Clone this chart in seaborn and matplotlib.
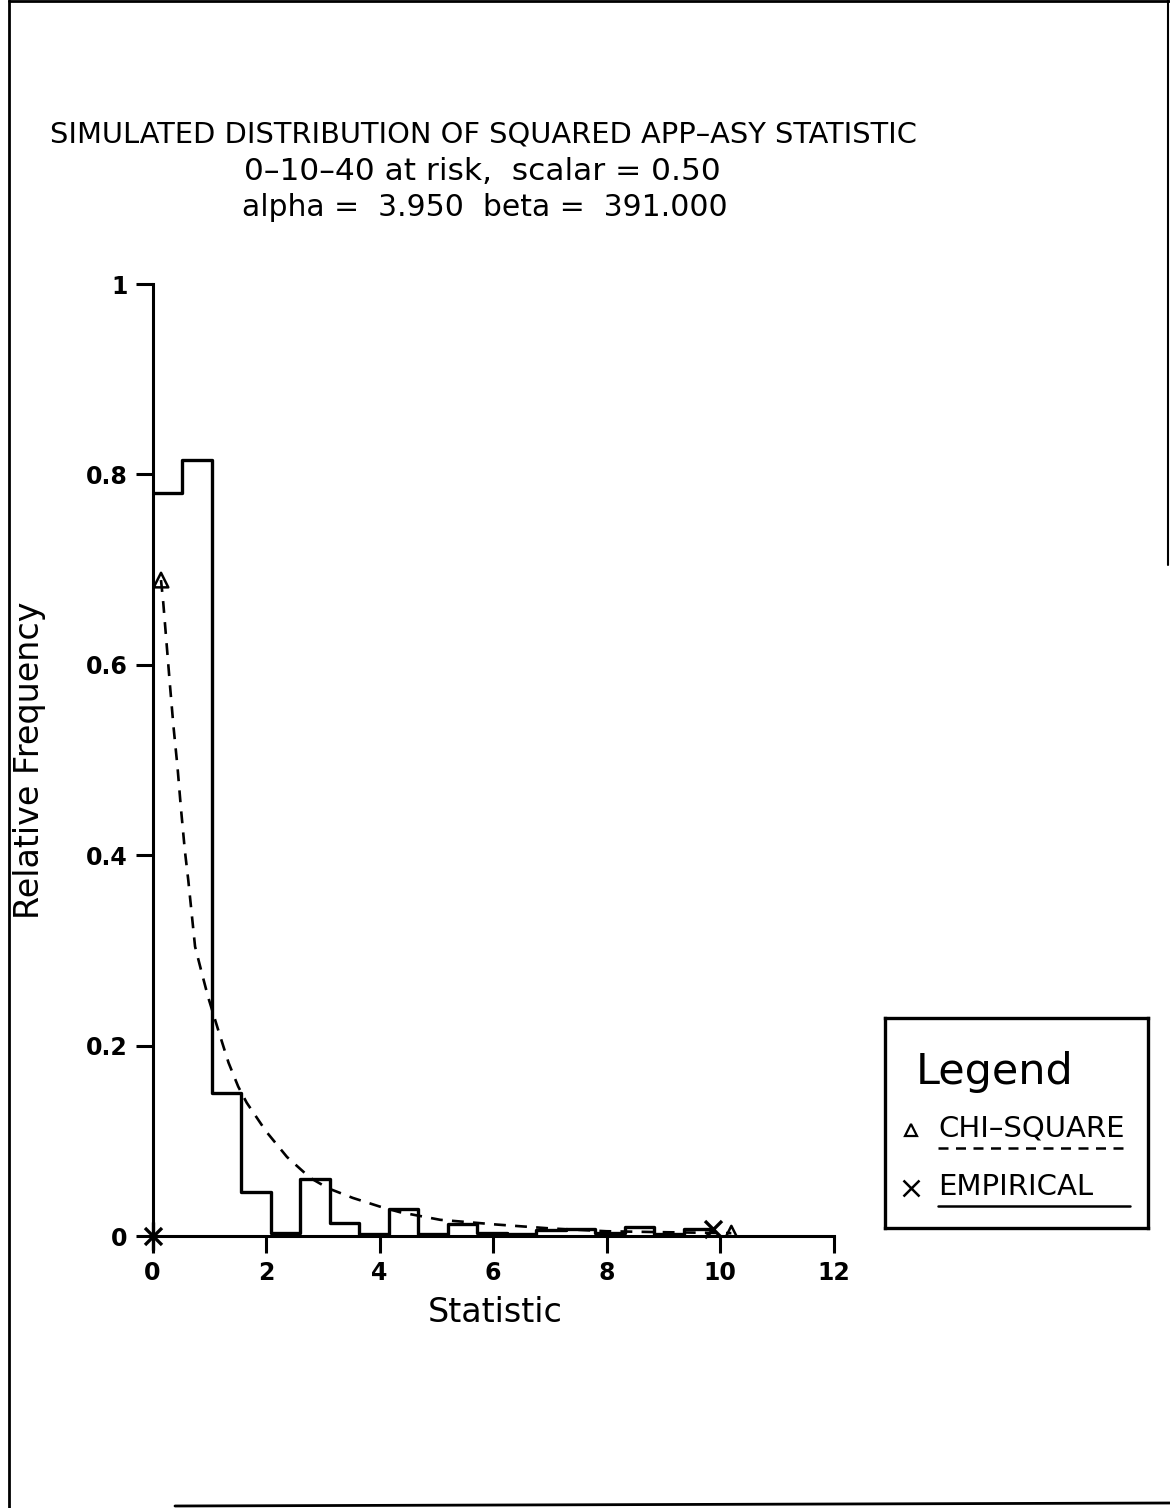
import numpy as np
import pandas as pd
import matplotlib
matplotlib.use("Agg")
import matplotlib.pyplot as plt
import seaborn as sns
from matplotlib.lines import Line2D

# ---------------- data ----------------
bin_width = 0.52
bin_starts = [0.00, 0.52, 1.04, 1.56, 2.08, 2.60, 3.12, 3.64, 4.16, 4.68,
              5.20, 5.72, 6.24, 6.76, 7.28, 7.80, 8.32, 8.84, 9.36]
empirical_freq = [0.780, 0.815, 0.150, 0.046, 0.003, 0.060, 0.014, 0.002,
                  0.028, 0.002, 0.013, 0.003, 0.002, 0.006, 0.007, 0.003,
                  0.009, 0.002, 0.007]

chi_x = [0.15, 0.19, 0.25, 0.31, 0.37, 0.44, 0.50, 0.57, 0.63, 0.69, 0.75,
         0.87, 0.98, 1.16, 1.34, 1.51, 1.66, 2.00, 2.37, 2.78, 3.10, 3.53,
         4.00, 4.36, 5.07, 6.07, 7.00, 8.00, 9.00, 10.20]
chi_y = [0.689, 0.665, 0.621, 0.577, 0.535, 0.493, 0.450, 0.405, 0.374, 0.339,
         0.304, 0.276, 0.251, 0.216, 0.182, 0.157, 0.140, 0.110, 0.083, 0.061,
         0.050, 0.040, 0.031, 0.025, 0.017, 0.012, 0.008, 0.005, 0.004, 0.003]

x_ticks = [0, 2, 4, 6, 8, 10, 12]
y_ticks = [0, 0.2, 0.4, 0.6, 0.8, 1.0]
y_ticklabels = ["0", "0.2", "0.4", "0.6", "0.8", "1"]

title_lines = ["SIMULATED DISTRIBUTION OF SQUARED APP\u2013ASY STATISTIC",
               "0\u201310\u201340 at risk,  scalar = 0.50",
               "alpha =  3.950  beta =  391.000"]
legend_title = "Legend"
legend_labels = ["CHI\u2013SQUARE", "EMPIRICAL"]

# ---------------- style ----------------
sns.set_theme(style="white")
plt.rcParams["font.family"] = ["DejaVu Sans"]
plt.rcParams["text.color"] = "black"
plt.rcParams["axes.labelcolor"] = "black"
plt.rcParams["xtick.color"] = "black"
plt.rcParams["ytick.color"] = "black"

W, H = 1170, 1508
fig = plt.figure(figsize=(W / 100, H / 100), dpi=100)
fig.patch.set_facecolor("white")

# page frame (pixel coordinate overlay)
frame = fig.add_axes([0, 0, 1, 1], zorder=-5)
frame.set_xlim(0, W)
frame.set_ylim(H, 0)
frame.axis("off")
frame.add_line(Line2D([9, 9], [0, H], color="black", lw=2))
frame.add_line(Line2D([9, W], [1, 1], color="black", lw=2))
frame.add_line(Line2D([1168, 1168], [0, 565], color="black", lw=1.5))
frame.add_line(Line2D([175, W], [1506, 1503], color="black", lw=2))

# main axes
x0px, x1px = 152.5, 833.5
y0px, y1px = 1236, 284
ax = fig.add_axes([x0px / W, (H - y0px) / H, (x1px - x0px) / W, (y0px - y1px) / H])
ax.set_facecolor("white")

centers = np.array(bin_starts) + bin_width / 2
hist_df = pd.DataFrame({"stat": centers, "freq": empirical_freq})
full_edges = list(bin_starts) + [bin_starts[-1] + bin_width]
sns.histplot(data=hist_df, x="stat", weights="freq", bins=full_edges,
             element="step", fill=False, color="black", linewidth=2.4,
             stat="count", ax=ax)

chi_df = pd.DataFrame({"stat": chi_x, "freq": chi_y})
sns.lineplot(data=chi_df, x="stat", y="freq", color="black", linewidth=1.9,
             linestyle=(0, (4.5, 3.5)), ax=ax, sort=False)

# end markers
tri_df = pd.DataFrame({"stat": [chi_x[0], chi_x[-1]], "freq": [chi_y[0], chi_y[-1]]})
sns.scatterplot(data=tri_df, x="stat", y="freq", marker="^", s=110,
                facecolor="none", edgecolor="black", linewidth=1.8, ax=ax, zorder=5)
emp_df = pd.DataFrame({"stat": [bin_starts[0], full_edges[-1]],
                       "freq": [0.0, empirical_freq[-1]]})
sns.scatterplot(data=emp_df, x="stat", y="freq", marker="x", s=150,
                color="black", linewidth=2.4, ax=ax, zorder=5, clip_on=False)
ax.plot([0], [0], marker="|", ms=20, mew=2.4, color="black", clip_on=False)

ax.set_xlim(0, 12)
ax.set_ylim(0, 1)
ax.set_xticks(x_ticks)
ax.set_xticklabels([str(t) for t in x_ticks])
ax.set_yticks(y_ticks)
ax.set_yticklabels(y_ticklabels)
for s in ["top", "right"]:
    ax.spines[s].set_visible(False)
for s in ["left", "bottom"]:
    ax.spines[s].set_linewidth(2.2)
    ax.spines[s].set_color("black")
ax.tick_params(axis="both", direction="out", length=12, width=2.2, color="black",
               labelcolor="black", labelsize=17, pad=6, bottom=True, left=True)
for lab in ax.get_xticklabels() + ax.get_yticklabels():
    lab.set_fontweight("bold")
ax.grid(False)

ax.set_xlabel("Statistic", fontsize=24, color="black")
ax.set_ylabel("Relative Frequency", fontsize=24, color="black")
ax.xaxis.set_label_coords((495 - x0px) / (x1px - x0px), (y0px - 1313) / (y0px - y1px))
ax.yaxis.set_label_coords((30 - x0px) / (x1px - x0px), (y0px - 760) / (y0px - y1px))
ax.xaxis.label.set_va("center")
ax.yaxis.label.set_va("center")

# titles
fig.text(483 / W, 1 - 135 / H, title_lines[0], ha="center", va="center",
         fontsize=20.8, color="black")
fig.text(482 / W, 1 - 172 / H, title_lines[1], ha="center", va="center",
         fontsize=22.5, color="black")
fig.text(485 / W, 1 - 207 / H, title_lines[2], ha="center", va="center",
         fontsize=21.5, color="black")

# legend box in pixel coordinates
lx0, lx1, ly0, ly1 = 885, 1148, 1018, 1228
lg = fig.add_axes([lx0 / W, (H - ly1) / H, (lx1 - lx0) / W, (ly1 - ly0) / H])
lg.set_xlim(lx0, lx1)
lg.set_ylim(ly1, ly0)
lg.set_xticks([])
lg.set_yticks([])
lg.set_facecolor("white")
for s in lg.spines.values():
    s.set_linewidth(2.4)
    s.set_color("black")
lg.text(995, 1072, legend_title, ha="center", va="center", fontsize=31, color="black")
lg.plot([911], [1130], marker="^", ms=9, mfc="none", mec="black", mew=1.6)
lg.text(938, 1128, legend_labels[0], ha="left", va="center", fontsize=21, color="black")
lg.plot([938, 1130], [1148, 1148], color="black", lw=1.8, linestyle=(0, (4, 3)))
lg.plot([911], [1188], marker="x", ms=11, mec="black", mew=1.8)
lg.text(938, 1187, legend_labels[1], ha="left", va="center", fontsize=21, color="black")
lg.plot([938, 1130], [1206, 1206], color="black", lw=1.8)

fig.savefig("out.png", dpi=100, facecolor="white")
